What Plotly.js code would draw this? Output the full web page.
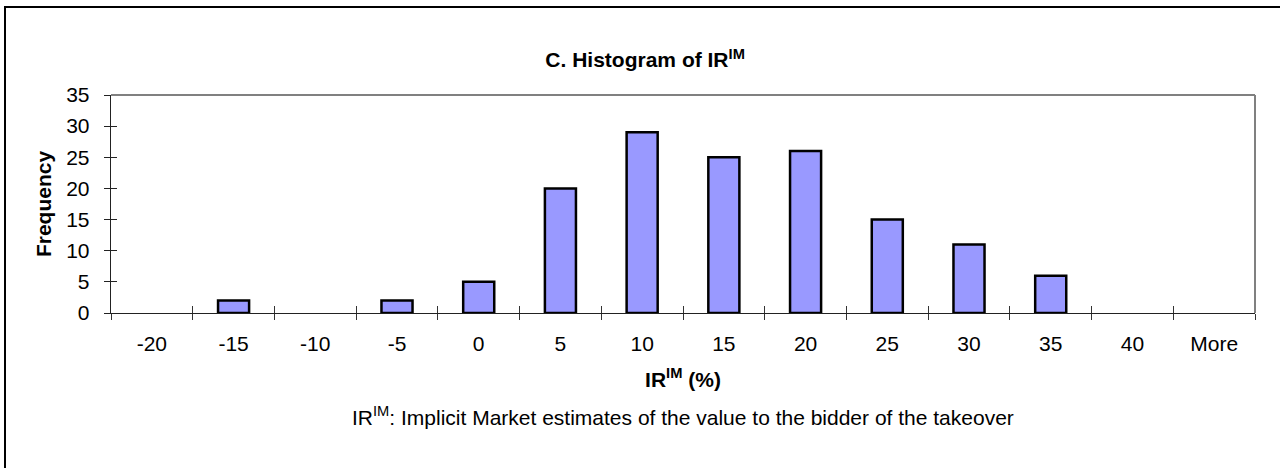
<!DOCTYPE html>
<html><head><meta charset="utf-8">
<script src="https://cdn.plot.ly/plotly-3.0.1.min.js"></script>
<style>
html,body{margin:0;padding:0;background:#fff}
#wrap{position:relative;width:1280px;height:468px;overflow:hidden}
#chart{position:absolute;left:0;top:0;width:1280px;height:468px}
#frame{position:absolute;left:4px;top:6px;width:1300px;height:490px;border-top:2px solid #000;border-left:2px solid #000;pointer-events:none}
</style>
</head><body><div id="wrap"><div id="chart"></div><div id="frame"></div></div>
<script>
const categories = ['-20','-15','-10','-5','0','5','10','15','20','25','30','35','40','More'];
const frequency = [0,2,0,2,5,20,29,25,26,15,11,6,0,0];
const yTicks = [0,5,10,15,20,25,30,35];
const chartTitle = '<b>C. Histogram of IR<sup>IM</sup></b>';
const xTitle = '<b>IR<sup>IM</sup> (%)</b>';
const yTitle = '<b>Frequency</b>';
const note = 'IR<sup>IM</sup>: Implicit Market estimates of the value to the bidder of the takeover';

const FONT = 'Liberation Sans, Arial, sans-serif';
// no outline for empty bins (Excel draws nothing there)
const outlineWidths = frequency.map(v => (v > 0 ? 2.5 : 0));

const traces = [
  {
    type: 'bar', x: categories, y: frequency,
    marker: {color: '#9999FF', line: {color: '#000000', width: outlineWidths}},
    hoverinfo: 'x+y', showlegend: false
  },
  {
    type: 'scatter', mode: 'none', x: categories, y: frequency,
    xaxis: 'x2', yaxis: 'y2', hoverinfo: 'skip', showlegend: false
  }
];

const layout = {
  width: 1280, height: 468,
  margin: {l: 111, r: 25, t: 95, b: 155, pad: 0},
  paper_bgcolor: '#ffffff', plot_bgcolor: '#ffffff',
  font: {family: FONT, size: 21, color: '#000000'},
  bargap: 0.62,
  showlegend: false,
  title: {text: chartTitle, x: 0.504, xref: 'container', xanchor: 'center',
          y: 1 - 60/468, yref: 'container', yanchor: 'middle',
          font: {family: FONT, size: 21, color: '#000000'}},
  xaxis: {
    type: 'category', range: [-0.5, 13.5], fixedrange: true,
    showline: true, linecolor: '#222222', linewidth: 1.3,
    ticks: 'outside', tickson: 'boundaries', ticklen: 6, tickwidth: 1, tickcolor: '#333333',
    showgrid: false, zeroline: false,
    tickfont: {family: FONT, size: 21, color: '#000000'},
    ticklabelstandoff: 11,
    title: {text: xTitle, standoff: 18, font: {family: FONT, size: 21, color: '#000000'}}
  },
  yaxis: {
    range: [0, 35], tickvals: yTicks, fixedrange: true,
    showline: true, linecolor: '#222222', linewidth: 1.3,
    ticks: 'outside', ticklen: 6, tickwidth: 1, tickcolor: '#222222',
    showgrid: false, zeroline: false,
    tickfont: {family: FONT, size: 21, color: '#000000'},
    ticklabelstandoff: 10,
    title: {text: yTitle, standoff: 8, font: {family: FONT, size: 21, color: '#000000'}}
  },
  xaxis2: {
    type: 'category', overlaying: 'x', anchor: 'y', side: 'bottom',
    range: [-0.5, 13.5], fixedrange: true, categoryarray: categories,
    showline: false, showgrid: false, zeroline: false, showticklabels: false,
    ticks: 'inside', tickson: 'boundaries', ticklen: 7, tickwidth: 1, tickcolor: '#333333'
  },
  yaxis2: {
    overlaying: 'y', anchor: 'x', side: 'left',
    range: [0, 35], tickvals: yTicks, fixedrange: true,
    showline: false, showgrid: false, zeroline: false, showticklabels: false,
    ticks: 'inside', ticklen: 6, tickwidth: 1, tickcolor: '#222222'
  },
  shapes: [
    {type: 'line', xref: 'paper', yref: 'paper', x0: 0, x1: 1, y0: 1, y1: 1,
     line: {color: '#808080', width: 2}},
    {type: 'line', xref: 'paper', yref: 'paper', x0: 1, x1: 1, y0: 0, y1: 1,
     line: {color: '#808080', width: 2}}
  ],
  annotations: [
    {text: note, xref: 'paper', yref: 'paper', x: 0.5, y: (313-416)/218,
     xanchor: 'center', yanchor: 'middle', showarrow: false,
     font: {family: FONT, size: 21, color: '#000000'}}
  ]
};

Plotly.newPlot('chart', traces, layout, {displayModeBar: false, staticPlot: true});
</script>
</body></html>
